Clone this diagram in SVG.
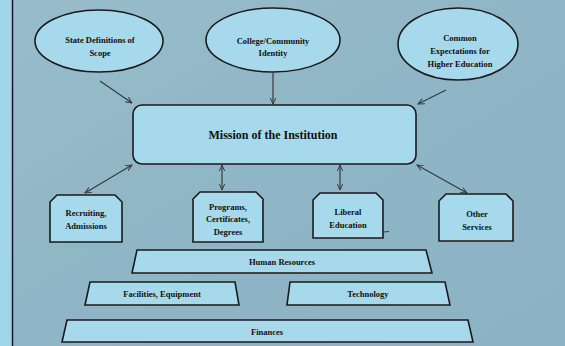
<svg xmlns="http://www.w3.org/2000/svg" width="565" height="346" viewBox="0 0 565 346">
<defs>
<linearGradient id="bg" x1="0" y1="0" x2="1" y2="1">
<stop offset="0" stop-color="#98bccb"/>
<stop offset="0.5" stop-color="#8fb6c6"/>
<stop offset="1" stop-color="#8cb3c4"/>
</linearGradient>
<marker id="ah" viewBox="0 0 10 10" refX="9" refY="5" markerWidth="7" markerHeight="7" orient="auto-start-reverse" markerUnits="userSpaceOnUse">
<path d="M0,1 L9,5 L0,9" fill="none" stroke="#3a3a3a" stroke-width="1.4"/>
</marker>
<style>
.shape{fill:#a6d9eb;stroke:#1d1a1a;stroke-width:1.6}
.t{font-family:"Liberation Serif","Times New Roman",serif;font-weight:bold;font-size:8.5px;fill:#111;text-anchor:middle}
.big{font-size:12px}
.c{fill:none;stroke:#3a3a3a;stroke-width:1.2}
</style>
</defs>
<rect x="0" y="0" width="565" height="346" fill="url(#bg)"/>
<rect x="0" y="0" width="12" height="346" fill="#9fd6e9"/>
<line x1="12.5" y1="0" x2="12.5" y2="346" stroke="#1d1a1a" stroke-width="1.5"/>

<g id="connectors">
<line class="c" x1="100" y1="81" x2="132" y2="103" marker-end="url(#ah)"/>
<line class="c" x1="273" y1="73" x2="273" y2="104" marker-end="url(#ah)"/>
<line class="c" x1="446" y1="90" x2="418" y2="104" marker-end="url(#ah)"/>
<line class="c" x1="132" y1="165" x2="85" y2="193" marker-start="url(#ah)" marker-end="url(#ah)"/>
<line class="c" x1="222" y1="165" x2="222" y2="190" marker-start="url(#ah)" marker-end="url(#ah)"/>
<line class="c" x1="340" y1="165" x2="340" y2="190" marker-start="url(#ah)" marker-end="url(#ah)"/>
<line class="c" x1="417" y1="165" x2="467" y2="193" marker-start="url(#ah)" marker-end="url(#ah)"/>
<line class="c" x1="384" y1="232" x2="389" y2="231.5"/>
</g>

<g id="state">
<ellipse class="shape" cx="99" cy="41" rx="64" ry="31"/>
<text class="t" x="100" y="43">State Definitions of</text>
<text class="t" x="100" y="56">Scope</text>
</g>
<g id="college">
<ellipse class="shape" cx="273" cy="40" rx="67" ry="32"/>
<text class="t" x="273" y="44">College/Community</text>
<text class="t" x="273" y="56">Identity</text>
</g>
<g id="common">
<ellipse class="shape" cx="458" cy="44" rx="60" ry="36"/>
<text class="t" x="460" y="41">Common</text>
<text class="t" x="460" y="54">Expectations for</text>
<text class="t" x="460" y="67">Higher Education</text>
</g>
<g id="mission">
<rect class="shape" x="133" y="105" width="283" height="59" rx="9"/>
<text class="t big" x="273" y="139">Mission of the Institution</text>
</g>
<g id="recruiting">
<path class="shape" d="M57,195 L115,195 L122,202 L122,242 L50,242 L50,202 Z"/>
<text class="t" x="86" y="216">Recruiting,</text>
<text class="t" x="86" y="229">Admissions</text>
</g>
<g id="programs">
<path class="shape" d="M200,192 L256,192 L263,199 L263,242 L193,242 L193,199 Z"/>
<text class="t" x="228" y="210">Programs,</text>
<text class="t" x="228" y="222">Certificates,</text>
<text class="t" x="228" y="235">Degrees</text>
</g>
<g id="liberal">
<path class="shape" d="M320,193 L376,193 L383,200 L383,238 L313,238 L313,200 Z"/>
<text class="t" x="348" y="215">Liberal</text>
<text class="t" x="348" y="228">Education</text>
</g>
<g id="other">
<path class="shape" d="M446,194 L506,194 L513,201 L513,241 L439,241 L439,201 Z"/>
<text class="t" x="477" y="217">Other</text>
<text class="t" x="477" y="230">Services</text>
</g>
<g id="human">
<path class="shape" d="M137,250 L426,250 L432,273 L132,273 Z"/>
<text class="t" x="282" y="265">Human Resources</text>
</g>
<g id="facilities">
<path class="shape" d="M90,282 L235,282 L239,305 L85,305 Z"/>
<text class="t" x="162" y="297">Facilities, Equipment</text>
</g>
<g id="technology">
<path class="shape" d="M290,282 L445,282 L450,305 L287,305 Z"/>
<text class="t" x="368" y="297">Technology</text>
</g>
<g id="finances">
<path class="shape" d="M67,320 L468,320 L473,342 L62,342 Z"/>
<text class="t" x="267" y="335">Finances</text>
</g>
</svg>
